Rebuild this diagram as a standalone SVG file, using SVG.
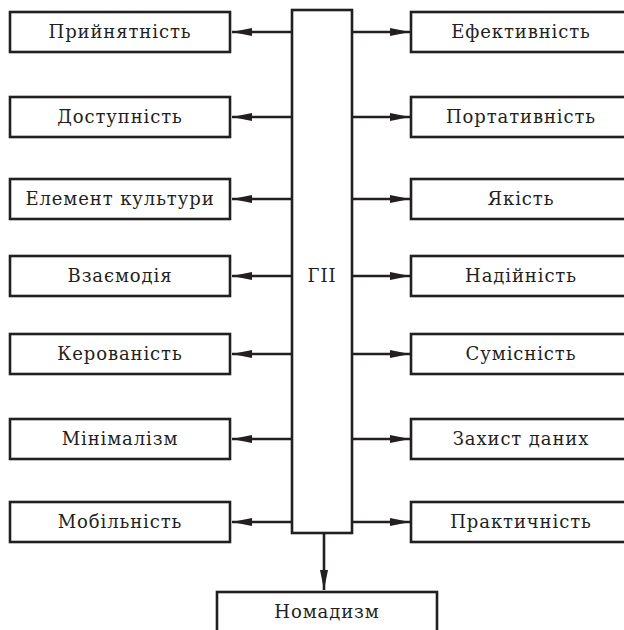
<svg xmlns="http://www.w3.org/2000/svg" width="624" height="630" viewBox="0 0 624 630">
  <style>
    .box { fill: #ffffff; stroke: #231f20; stroke-width: 2.6; }
    .lbl { font-family: "DejaVu Serif", "Liberation Serif", serif; font-size: 18px; letter-spacing: 0.9px; fill: #231f20; text-anchor: middle; }
    .wire { stroke: #231f20; stroke-width: 2.6; fill: none; }
  </style>
  <defs>
    <marker id="arrow" viewBox="0 0 20 8" refX="20" refY="4" markerWidth="20" markerHeight="8" markerUnits="userSpaceOnUse" orient="auto">
      <path d="M0,0 L20,4 L0,8 Z" fill="#231f20"/>
    </marker>
  </defs>

  <rect width="624" height="630" fill="#ffffff"/>

  <!-- connectors -->
  <g id="connectors">
    <line class="wire" x1="292" y1="32" x2="232" y2="32" marker-end="url(#arrow)"/>
    <line class="wire" x1="292" y1="117" x2="232" y2="117" marker-end="url(#arrow)"/>
    <line class="wire" x1="292" y1="199" x2="232" y2="199" marker-end="url(#arrow)"/>
    <line class="wire" x1="292" y1="276" x2="232" y2="276" marker-end="url(#arrow)"/>
    <line class="wire" x1="292" y1="354" x2="232" y2="354" marker-end="url(#arrow)"/>
    <line class="wire" x1="292" y1="439" x2="232" y2="439" marker-end="url(#arrow)"/>
    <line class="wire" x1="292" y1="522" x2="232" y2="522" marker-end="url(#arrow)"/>

    <line class="wire" x1="352" y1="32" x2="410" y2="32" marker-end="url(#arrow)"/>
    <line class="wire" x1="352" y1="117" x2="410" y2="117" marker-end="url(#arrow)"/>
    <line class="wire" x1="352" y1="199" x2="410" y2="199" marker-end="url(#arrow)"/>
    <line class="wire" x1="352" y1="276" x2="410" y2="276" marker-end="url(#arrow)"/>
    <line class="wire" x1="352" y1="354" x2="410" y2="354" marker-end="url(#arrow)"/>
    <line class="wire" x1="352" y1="439" x2="410" y2="439" marker-end="url(#arrow)"/>
    <line class="wire" x1="352" y1="522" x2="410" y2="522" marker-end="url(#arrow)"/>

    <line class="wire" x1="324" y1="533" x2="324" y2="590" marker-end="url(#arrow)"/>
  </g>

  <!-- central node -->
  <g id="gp">
    <rect class="box" x="292" y="10" width="60" height="523"/>
    <text class="lbl" x="322" y="282">ГІІ</text>
  </g>

  <!-- left column -->
  <g id="pryiniatnist"><rect class="box" x="10" y="12" width="220" height="40"/><text class="lbl" x="120" y="38">Прийнятність</text></g>
  <g id="dostupnist"><rect class="box" x="10" y="97" width="220" height="40"/><text class="lbl" x="120" y="123">Доступність</text></g>
  <g id="element-kultury"><rect class="box" x="10" y="179" width="220" height="40"/><text class="lbl" x="120" y="205">Елемент культури</text></g>
  <g id="vzaiemodiia"><rect class="box" x="10" y="256" width="220" height="40"/><text class="lbl" x="120" y="282">Взаємодія</text></g>
  <g id="kerovanist"><rect class="box" x="10" y="334" width="220" height="40"/><text class="lbl" x="120" y="360">Керованість</text></g>
  <g id="minimalizm"><rect class="box" x="10" y="419" width="220" height="40"/><text class="lbl" x="120" y="445">Мінімалізм</text></g>
  <g id="mobilnist"><rect class="box" x="10" y="502" width="220" height="40"/><text class="lbl" x="120" y="528">Мобільність</text></g>

  <!-- right column -->
  <g id="efektyvnist"><rect class="box" x="411" y="12" width="230" height="40"/><text class="lbl" x="521" y="38">Ефективність</text></g>
  <g id="portatyvnist"><rect class="box" x="411" y="97" width="230" height="40"/><text class="lbl" x="521" y="123">Портативність</text></g>
  <g id="yakist"><rect class="box" x="411" y="179" width="230" height="40"/><text class="lbl" x="521" y="205">Якість</text></g>
  <g id="nadiinist"><rect class="box" x="411" y="256" width="230" height="40"/><text class="lbl" x="521" y="282">Надійність</text></g>
  <g id="sumisnist"><rect class="box" x="411" y="334" width="230" height="40"/><text class="lbl" x="521" y="360">Сумісність</text></g>
  <g id="zakhyst-danykh"><rect class="box" x="411" y="419" width="230" height="40"/><text class="lbl" x="521" y="445">Захист даних</text></g>
  <g id="praktychnist"><rect class="box" x="411" y="502" width="230" height="40"/><text class="lbl" x="521" y="528">Практичність</text></g>

  <!-- bottom node -->
  <g id="nomadyzm"><rect class="box" x="217" y="592" width="220" height="50"/><text class="lbl" x="327" y="618">Номадизм</text></g>
</svg>
